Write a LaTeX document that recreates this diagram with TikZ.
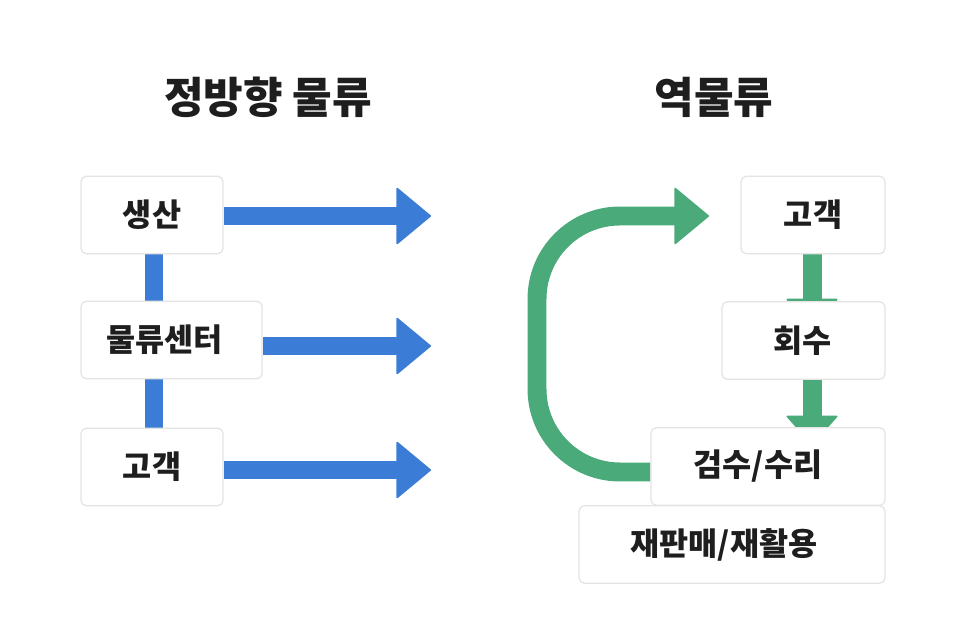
\documentclass[tikz,border=0pt]{standalone}
\usepackage{fontspec}
\setmainfont{Noto Sans CJK KR}
\usetikzlibrary{arrows.meta, backgrounds}
\definecolor{FwdBlue}{RGB}{59,125,214}
\definecolor{RevGreen}{RGB}{75,170,122}
\definecolor{boxline}{RGB}{228,228,228}
\definecolor{inkdark}{RGB}{30,30,30}

\begin{document}
\begin{tikzpicture}[
  x=0.02cm, y=-0.02cm,
  stage/.style={draw=boxline, fill=white, rounded corners=3pt, line width=0.7pt,
    inner sep=0pt, minimum height=1.55cm},
  boxtext/.style={text=inkdark, inner sep=0pt, font=\fontsize{18}{21}\selectfont\bfseries},
  heading/.style={text=inkdark, font=\fontsize{24.5}{29}\selectfont\bfseries},
  fwdflow/.style={draw=FwdBlue, line width=10.2pt},
  revflow/.style={draw=RevGreen, line width=10.8pt},
  bighead/.style={-{Triangle[length=20pt, width=33pt, line width=1pt, round]}},
  downhead/.style={-{Triangle[length=17pt, width=30pt, line width=1pt, round]}},
]
\useasboundingbox (0,0) rectangle (966,644);

% --- Headings ------------------------------------------------------
\node[heading] (fwdtitle) at (268,97) {정방향 물류};
\node[heading] (revtitle) at (714,97) {역물류};

% --- Forward flow boxes --------------------------------------------
\node[stage, minimum width=2.84cm, label={[boxtext]center:생산}] (prod) at (152,215) {};
\node[stage, minimum width=3.62cm, label={[boxtext, xshift=-0.14cm]center:물류센터}] (hub) at (171.5,340) {};
\node[stage, minimum width=2.84cm, label={[boxtext]center:고객}] (custL) at (152,467) {};

% --- Reverse flow boxes --------------------------------------------
\node[stage, minimum width=2.88cm, label={[boxtext]center:고객}] (custR) at (813,215) {};
\node[stage, minimum width=3.26cm, label={[boxtext, xshift=-0.02cm]center:회수}] (collect) at (803.5,340.5) {};
\node[stage, minimum width=4.68cm, label={[boxtext, xshift=-0.2cm]center:검수/수리}] (repair) at (768,466.5) {};
\node[stage, minimum width=6.12cm, label={[boxtext, xshift=-0.16cm]center:재판매/재활용}] (resell) at (732,544.5) {};

% arrow ends
\coordinate (tip1) at (431,216);
\coordinate (tip2) at (431,346);
\coordinate (tip3) at (431,470);
\coordinate (downA) at (812,328);
\coordinate (downB) at (812,445);
\coordinate (bendlow)  at (537,472);
\coordinate (bendhigh) at (537,216);
\coordinate (revtip)   at (709,216);

\begin{scope}[on background layer]
  \fill[white] (0,0) rectangle (966,644);
  % forward: chain and outgoing arrows
  \draw[fwdflow] ([xshift=0.04cm]prod.south) -- ([xshift=0.04cm]prod.south |- hub.north);
  \draw[fwdflow] ([xshift=0.04cm]prod.south |- hub.south) -- ([xshift=0.04cm]custL.north);
  \draw[fwdflow, bighead] (prod.east |- tip1) -- (tip1);
  \draw[fwdflow, bighead] (hub.east |- tip2) -- (tip2);
  \draw[fwdflow, bighead] (custL.east |- tip3) -- (tip3);
  % reverse: down the chain, then back round to the customer
  \draw[revflow, downhead] (custR.south -| downA) -- (downA);
  \draw[revflow, downhead] (collect.south -| downB) -- (downB);
  \draw[revflow, bighead, rounded corners=1.66cm]
    (repair.west |- bendlow) -- (bendlow) -- (bendhigh) -- (revtip);
\end{scope}
\end{tikzpicture}
\end{document}
